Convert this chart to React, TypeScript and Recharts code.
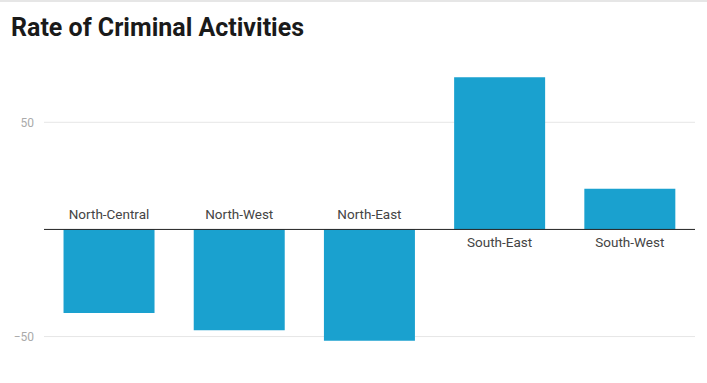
import React from 'react';
import { BarChart, Bar, XAxis, YAxis, CartesianGrid, ReferenceLine, LabelList } from 'recharts';

const regions = ['North-Central', 'North-West', 'North-East', 'South-East', 'South-West'];
const rates = [-39, -47, -52, 71, 19];
const yTicks = [-50, 50];

const data = regions.map((region, i) => ({ region, rate: rates[i] }));

const fmtTick = (v: number) => (v < 0 ? `\u2212${Math.abs(v)}` : `${v}`);

// category names sit next to the zero line, on the side away from the bar
const RegionLabel = (props: any) => {
  const { x, y, width, height, index } = props;
  const zeroY = Number(y) + Number(height);
  const neg = rates[index] < 0;
  return (
    <text
      x={Number(x) + Number(width) / 2}
      y={neg ? zeroY - 10 : zeroY + 18}
      textAnchor="middle"
      fontSize={13.5}
      fill="#444"
      fontFamily="Roboto, sans-serif"
    >
      {regions[index]}
    </text>
  );
};

const App: React.FC = () => {
  return (
    <div style={{ position: 'absolute', left: 0, top: 0, width: 707, height: 383, background: '#fff', borderTop: '2px solid #e6e6e6', boxSizing: 'border-box' }}>
      <div style={{ position: 'absolute', left: 11, top: 11, fontFamily: 'Roboto, sans-serif', fontWeight: 700, fontSize: 25, color: '#1a1a1a' }}>
        Rate of Criminal Activities
      </div>
      <div style={{ position: 'absolute', left: 0, top: -2 }}>
        <BarChart width={707} height={383} data={data} margin={{ top: 58, right: 12, bottom: 25, left: 0 }} barCategoryGap="15%">
          <CartesianGrid vertical={false} stroke="#e6e6e6" syncWithTicks />
          <XAxis dataKey="region" hide />
          <YAxis
            width={44}
            domain={[-60, 80]}
            ticks={yTicks}
            tickFormatter={fmtTick}
            axisLine={false}
            tickLine={false}
            tickMargin={4}
            tick={{ fontSize: 12, fill: '#aaa', fontFamily: 'Roboto, sans-serif' }}
          />
          <ReferenceLine y={0} stroke="#222" strokeWidth={1} />
          <Bar dataKey="rate" fill="#1aa1cf" isAnimationActive={false}>
            <LabelList dataKey="region" content={<RegionLabel />} />
          </Bar>
        </BarChart>
      </div>
    </div>
  );
};

export default App;
